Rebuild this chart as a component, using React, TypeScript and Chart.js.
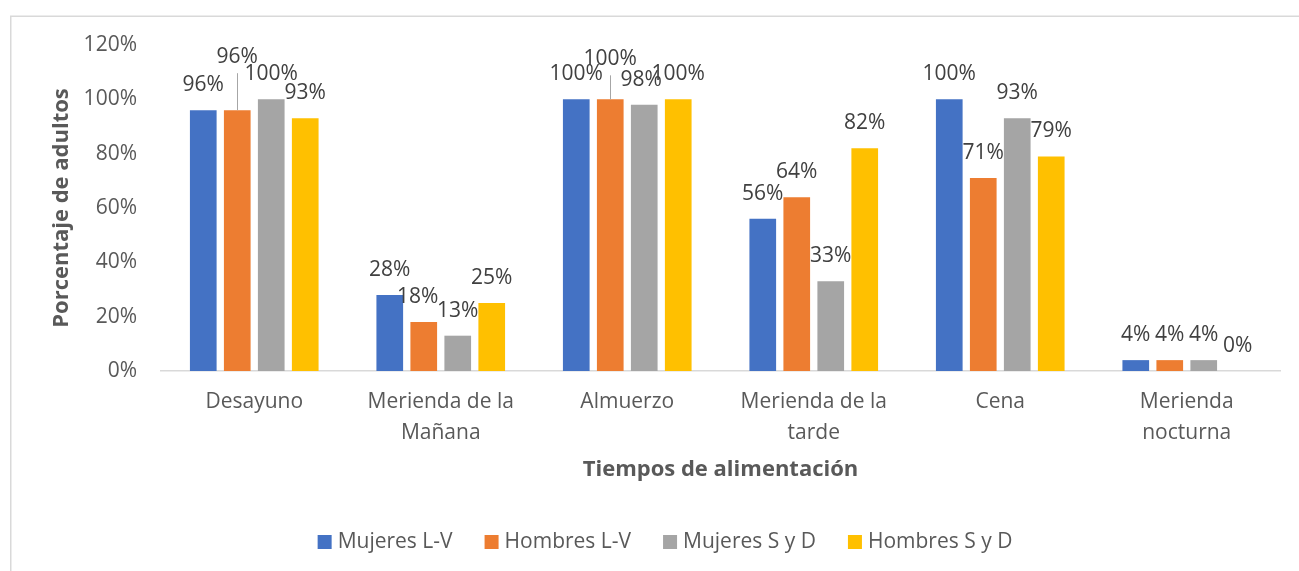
import React, { useEffect, useRef } from "react";
import { Chart, registerables } from "chart.js";

Chart.register(...registerables);

// ---- data ----
const categories: string[][] = [
  ["Desayuno"],
  ["Merienda de la", "Mañana"],
  ["Almuerzo"],
  ["Merienda de la", "tarde"],
  ["Cena"],
  ["Merienda", "nocturna"],
];
const seriesNames = ["Mujeres L-V", "Hombres L-V", "Mujeres S y D", "Hombres S y D"];
const mujeresLV = [96, 28, 100, 56, 100, 4];
const hombresLV = [96, 18, 100, 64, 71, 4];
const mujeresSD = [100, 13, 98, 33, 93, 4];
const hombresSD = [93, 25, 100, 82, 79, 0];
const yMin = 0;
const yMax = 120;
const yStep = 20;
const xTitle = "Tiempos de alimentación";
const yTitle = "Porcentaje de adultos";

// ---- style ----
const colors = ["#4472C4", "#ED7D31", "#A5A5A5", "#FFC000"];
const FONT = "'Open Sans', sans-serif";
const TEXT = "#595959";
const LABEL_TEXT = "#404040";
const FS = 21;
const TITLE_FS = 22;

// manual label nudges (dataset-index) like moved Excel data labels
const labelNudges: Record<string, { dx: number; dy: number; leader?: boolean }> = {
  "1-0": { dx: 0, dy: -28, leader: true },
  "1-2": { dx: 0, dy: -15, leader: true },
  "1-1": { dx: -6, dy: 0 },
  "2-2": { dx: -3, dy: 0 },
};

const decorPlugin = {
  id: "decor",
  beforeDraw(chart: any) {
    const ctx = chart.ctx;
    ctx.save();
    ctx.strokeStyle = "#d9d9d9";
    ctx.lineWidth = 1.5;
    ctx.beginPath();
    ctx.moveTo(10.75, chart.height + 5);
    ctx.lineTo(10.75, 16.25);
    ctx.lineTo(chart.width + 5, 16.25);
    ctx.stroke();
    ctx.restore();
  },
  afterDatasetsDraw(chart: any) {
    const ctx = chart.ctx;
    ctx.save();
    ctx.font = `${FS}px ${FONT}`;
    ctx.fillStyle = LABEL_TEXT;
    ctx.textAlign = "center";
    ctx.textBaseline = "middle";
    chart.data.datasets.forEach((ds: any, di: number) => {
      const meta = chart.getDatasetMeta(di);
      meta.data.forEach((el: any, i: number) => {
        const v = ds.data[i];
        const n = labelNudges[`${di}-${i}`] || { dx: 0, dy: 0 };
        const lx = el.x + n.dx;
        const ly = el.y - 25 + n.dy;
        if (n.leader) {
          ctx.strokeStyle = "#a6a6a6";
          ctx.lineWidth = 1;
          ctx.beginPath();
          ctx.moveTo(Math.round(el.x) + 0.5, ly + 16);
          ctx.lineTo(Math.round(el.x) + 0.5, el.y);
          ctx.stroke();
        }
        ctx.fillText(`${v}%`, lx, ly);
      });
    });
    ctx.restore();
  },
  afterDraw(chart: any) {
    const ctx = chart.ctx;
    const area = chart.chartArea;
    ctx.save();
    // axis titles
    ctx.fillStyle = TEXT;
    ctx.font = `bold ${TITLE_FS}px ${FONT}`;
    ctx.textAlign = "center";
    ctx.textBaseline = "middle";
    ctx.fillText(xTitle, (area.left + area.right) / 2, 470);
    ctx.save();
    ctx.translate(62, (area.top + area.bottom) / 2);
    ctx.rotate(-Math.PI / 2);
    ctx.fillText(yTitle, 0, 0);
    ctx.restore();

    // legend
    ctx.font = `${FS}px ${FONT}`;
    ctx.textAlign = "left";
    const box = 14;
    const textGap = 20;
    const itemGap = 32;
    const widths = seriesNames.map((s) => ctx.measureText(s).width);
    const total = widths.reduce((a, w) => a + textGap + w, 0) + itemGap * (seriesNames.length - 1);
    let x = 665 - total / 2;
    const cy = 542;
    seriesNames.forEach((s, i) => {
      ctx.fillStyle = colors[i];
      ctx.fillRect(x, cy - box / 2, box, box);
      ctx.fillStyle = TEXT;
      ctx.fillText(s, x + textGap, cy);
      x += textGap + widths[i] + itemGap;
    });
    ctx.restore();
  },
};

export default function App() {
  const ref = useRef<HTMLCanvasElement | null>(null);
  useEffect(() => {
    if (!ref.current) return;
    const seriesValues = [mujeresLV, hombresLV, mujeresSD, hombresSD];
    const chart = new Chart(ref.current, {
      type: "bar",
      data: {
        labels: categories,
        datasets: seriesNames.map((name, i) => ({
          label: name,
          data: seriesValues[i],
          backgroundColor: colors[i],
          borderWidth: 0,
          categoryPercentage: 0.729,
          barPercentage: 0.785,
        })),
      },
      options: {
        responsive: false,
        animation: false,
        devicePixelRatio: 1,
        layout: { padding: { left: 0, right: 19, top: 45, bottom: 0 } },
        plugins: {
          legend: { display: false },
          tooltip: { enabled: false },
          title: { display: false },
        },
        scales: {
          x: {
            grid: { display: false, drawTicks: false },
            border: { display: true, color: "#d9d9d9", width: 1.5 },
            ticks: {
              color: TEXT,
              font: { family: FONT, size: FS, lineHeight: 1.45 },
              padding: 16,
              maxRotation: 0,
              autoSkip: false,
            },
            afterFit: (s: any) => {
              s.height = 200;
            },
          },
          y: {
            min: yMin,
            max: yMax,
            grid: { display: false, drawTicks: false },
            border: { display: false },
            ticks: {
              stepSize: yStep,
              color: TEXT,
              font: { family: FONT, size: FS },
              padding: 24,
              callback: (v: any) => `${v}%`,
            },
            afterFit: (s: any) => {
              s.width = 161;
            },
          },
        },
      },
      plugins: [decorPlugin],
    });
    return () => chart.destroy();
  }, []);
  return (
    <canvas
      ref={ref}
      width={1299}
      height={571}
      style={{ position: "fixed", left: 0, top: 0, width: 1299, height: 571, display: "block", background: "#fff" }}
    />
  );
}
